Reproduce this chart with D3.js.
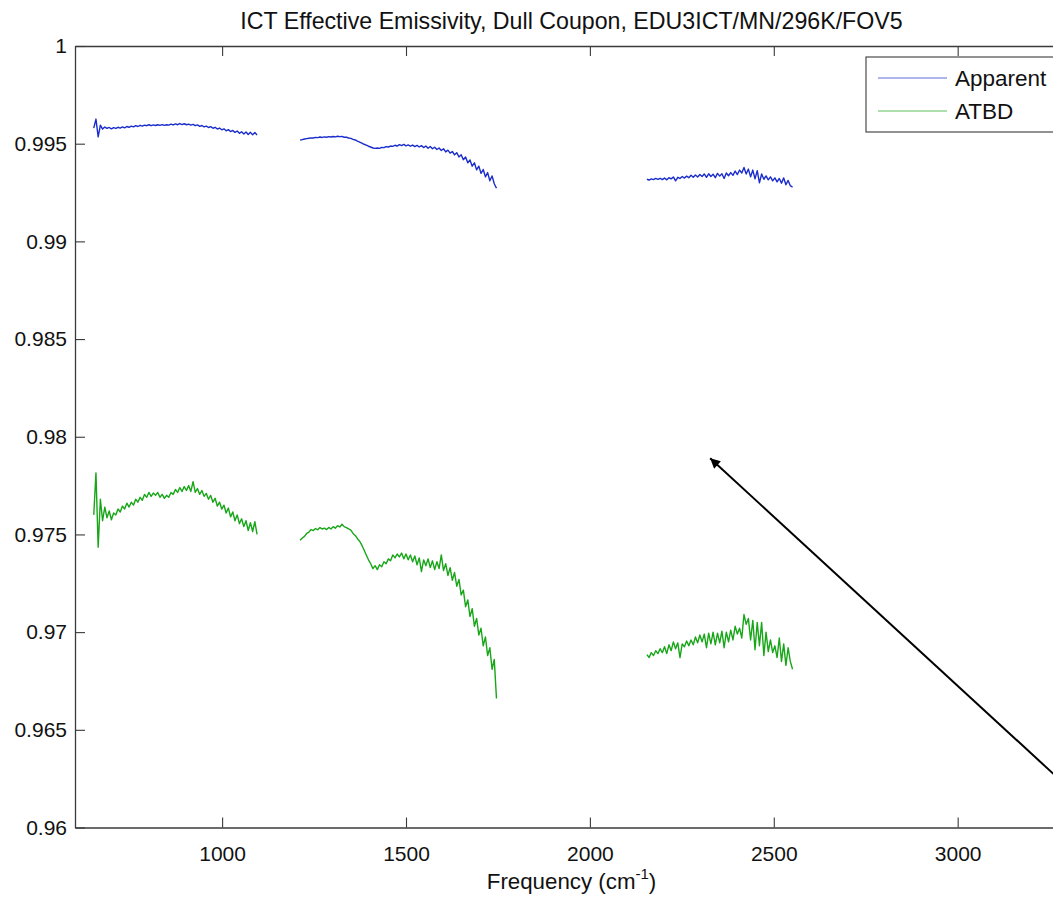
<!DOCTYPE html>
<html>
<head>
<meta charset="utf-8">
<script src="https://cdn.jsdelivr.net/npm/d3@7"></script>
<style>
  html, body { margin: 0; padding: 0; background: #fff; overflow: hidden; }
  svg { display: block; font-family: "Liberation Sans", Arial, Helvetica, sans-serif; }
</style>
</head>
<body>
<svg id="chart" width="1053" height="903"></svg>
<script>
// Spectral bands: first wavenumber (cm^-1) of each band and sample spacing
const bandStarts = [651, 1212, 2155];
const sampleStep = 6;

// Apparent effective emissivity, one array per band
const apparentB1 = [
  0.99580, 0.99626, 0.99535, 0.99595, 0.99575, 0.99585, 0.99578, 0.99583, 0.99576, 0.99582,
  0.99578, 0.99584, 0.99580, 0.99586, 0.99581, 0.99588, 0.99584, 0.99590, 0.99586, 0.99592,
  0.99588, 0.99594, 0.99590, 0.99595, 0.99592, 0.99597, 0.99592, 0.99596, 0.99593, 0.99597,
  0.99594, 0.99598, 0.99594, 0.99597, 0.99595, 0.99600, 0.99596, 0.99601, 0.99597, 0.99603,
  0.99598, 0.99602, 0.99597, 0.99600, 0.99595, 0.99599, 0.99592, 0.99596, 0.99589, 0.99593,
  0.99586, 0.99590, 0.99583, 0.99587, 0.99579, 0.99584, 0.99575, 0.99580, 0.99571, 0.99576,
  0.99566, 0.99572, 0.99562, 0.99568, 0.99558, 0.99565, 0.99553, 0.99561, 0.99550, 0.99560,
  0.99547, 0.99558, 0.99546, 0.99557, 0.99545
];
const apparentB2 = [
  0.99518, 0.99521, 0.99524, 0.99526, 0.99528, 0.99530, 0.99529, 0.99532, 0.99531, 0.99534,
  0.99532, 0.99535, 0.99533, 0.99536, 0.99534, 0.99537, 0.99535, 0.99538, 0.99536, 0.99537,
  0.99533, 0.99533, 0.99529, 0.99527, 0.99522, 0.99519, 0.99513, 0.99508, 0.99503, 0.99497,
  0.99493, 0.99487, 0.99483, 0.99478, 0.99476, 0.99478, 0.99476, 0.99481, 0.99480, 0.99485,
  0.99483, 0.99488, 0.99486, 0.99492, 0.99488, 0.99495, 0.99490, 0.99496, 0.99489, 0.99494,
  0.99487, 0.99493, 0.99485, 0.99491, 0.99483, 0.99490, 0.99480, 0.99488, 0.99477, 0.99486,
  0.99474, 0.99482, 0.99470, 0.99478, 0.99465, 0.99474, 0.99458, 0.99467, 0.99452, 0.99460,
  0.99443, 0.99454, 0.99432, 0.99443, 0.99418, 0.99432, 0.99402, 0.99417, 0.99385, 0.99402,
  0.99366, 0.99385, 0.99348, 0.99368, 0.99330, 0.99352, 0.99310, 0.99335, 0.99295, 0.99272
];
const apparentB3 = [
  0.99318, 0.99314, 0.99320, 0.99316, 0.99322, 0.99317, 0.99323, 0.99316, 0.99324, 0.99315,
  0.99326, 0.99320, 0.99330, 0.99310, 0.99328, 0.99322, 0.99332, 0.99324, 0.99334, 0.99326,
  0.99338, 0.99328, 0.99340, 0.99330, 0.99342, 0.99332, 0.99345, 0.99328, 0.99346, 0.99332,
  0.99344, 0.99326, 0.99348, 0.99334, 0.99346, 0.99322, 0.99350, 0.99336, 0.99352, 0.99338,
  0.99360, 0.99342, 0.99365, 0.99350, 0.99378, 0.99345, 0.99370, 0.99330, 0.99365, 0.99320,
  0.99362, 0.99300, 0.99345, 0.99318, 0.99335, 0.99315, 0.99330, 0.99310, 0.99325, 0.99305,
  0.99322, 0.99298, 0.99325, 0.99290, 0.99312, 0.99285, 0.99278
];

// ATBD effective emissivity, one array per band
const atbdB1 = [
  0.97600, 0.97815, 0.97435, 0.97680, 0.97570, 0.97640, 0.97585, 0.97620, 0.97575, 0.97610,
  0.97600, 0.97630, 0.97615, 0.97645, 0.97630, 0.97660, 0.97640, 0.97665, 0.97650, 0.97680,
  0.97665, 0.97690, 0.97675, 0.97705, 0.97690, 0.97715, 0.97695, 0.97712, 0.97700, 0.97715,
  0.97690, 0.97705, 0.97685, 0.97700, 0.97690, 0.97715, 0.97705, 0.97730, 0.97715, 0.97740,
  0.97720, 0.97745, 0.97725, 0.97750, 0.97720, 0.97770, 0.97715, 0.97735, 0.97705, 0.97725,
  0.97695, 0.97710, 0.97680, 0.97700, 0.97665, 0.97685, 0.97645, 0.97665, 0.97630, 0.97650,
  0.97610, 0.97635, 0.97590, 0.97615, 0.97570, 0.97600, 0.97555, 0.97580, 0.97540, 0.97570,
  0.97520, 0.97560, 0.97515, 0.97565, 0.97500
];
const atbdB2 = [
  0.97470, 0.97482, 0.97490, 0.97505, 0.97512, 0.97525, 0.97520, 0.97530, 0.97524, 0.97535,
  0.97528, 0.97532, 0.97525, 0.97536, 0.97528, 0.97540, 0.97532, 0.97545, 0.97538, 0.97552,
  0.97540, 0.97535, 0.97528, 0.97522, 0.97505, 0.97495, 0.97478, 0.97465, 0.97445, 0.97420,
  0.97395, 0.97370, 0.97350, 0.97325, 0.97340, 0.97320, 0.97345, 0.97335, 0.97360, 0.97350,
  0.97375, 0.97365, 0.97395, 0.97380, 0.97400, 0.97385, 0.97405, 0.97375, 0.97400, 0.97370,
  0.97395, 0.97360, 0.97390, 0.97345, 0.97380, 0.97310, 0.97370, 0.97340, 0.97375, 0.97330,
  0.97365, 0.97320, 0.97360, 0.97325, 0.97395, 0.97315, 0.97350, 0.97290, 0.97330, 0.97265,
  0.97305, 0.97235, 0.97270, 0.97190, 0.97215, 0.97130, 0.97165, 0.97080, 0.97120, 0.97030,
  0.97070, 0.96985, 0.97020, 0.96930, 0.96975, 0.96880, 0.96920, 0.96810, 0.96860, 0.96660
];
const atbdB3 = [
  0.96885, 0.96870, 0.96895, 0.96880, 0.96905, 0.96890, 0.96915, 0.96895, 0.96925, 0.96890,
  0.96935, 0.96905, 0.96950, 0.96915, 0.96945, 0.96870, 0.96940, 0.96925, 0.96955, 0.96930,
  0.96960, 0.96935, 0.96975, 0.96945, 0.96985, 0.96950, 0.96990, 0.96920, 0.96995, 0.96940,
  0.97000, 0.96935, 0.96995, 0.96945, 0.97005, 0.96920, 0.97000, 0.96950, 0.97010, 0.96960,
  0.97030, 0.96990, 0.97020, 0.96970, 0.97090, 0.97040, 0.97070, 0.96960, 0.97060, 0.96910,
  0.97050, 0.96930, 0.97050, 0.96880, 0.97000, 0.96900, 0.96960, 0.96895, 0.96930, 0.96870,
  0.96970, 0.96850, 0.96940, 0.96830, 0.96920, 0.96850, 0.96810
];

// Axis limits and ticks
const xDomain = [600, 3300];
const yDomain = [0.96, 1.0];
const xTicks = [1000, 1500, 2000, 2500, 3000];
const yTicks = [0.96, 0.965, 0.97, 0.975, 0.98, 0.985, 0.99, 0.995, 1];
const yTickLabels = ["0.96", "0.965", "0.97", "0.975", "0.98", "0.985", "0.99", "0.995", "1"];

const seriesNames = ["Apparent", "ATBD"];
const seriesColors = ["#1a2ccc", "#17a617"];

// Annotation arrow in data units: tail (off to the lower right) and tip
const arrowTail = [3390, 0.9605];
const arrowTip = [2327, 0.9789];

const titleText = "ICT Effective Emissivity, Dull Coupon, EDU3ICT/MN/296K/FOV5";

// ---- drawing ----
const svg = d3.select("#chart");
const W = 1053, H = 903;
const m = { left: 75, top: 46, right: 1068, bottom: 827.5 };

svg.append("rect").attr("width", W).attr("height", H).attr("fill", "#fff");

const x = d3.scaleLinear().domain(xDomain).range([m.left, m.right]);
const y = d3.scaleLinear().domain(yDomain).range([m.bottom, m.top]);

const axisColor = "#3a3a3a";
const tickFont = "21px";

function styleAxis(g) {
  g.selectAll("path.domain").attr("stroke", axisColor).attr("stroke-width", 1.3);
  g.selectAll(".tick line").attr("stroke", axisColor).attr("stroke-width", 1.1);
  g.selectAll(".tick text").attr("fill", "#111").style("font-size", tickFont)
    .style("font-family", "'Liberation Sans', Arial, sans-serif");
}

// bottom axis with labels, ticks pointing inward
svg.append("g")
  .attr("transform", `translate(0,${m.bottom})`)
  .call(d3.axisBottom(x).tickValues(xTicks).tickFormat(d3.format("d"))
    .tickSizeInner(-10).tickSizeOuter(0).tickPadding(19))
  .call(styleAxis);

// top axis, ticks only
svg.append("g")
  .attr("transform", `translate(0,${m.top})`)
  .call(d3.axisTop(x).tickValues(xTicks).tickFormat("")
    .tickSizeInner(-10).tickSizeOuter(0))
  .call(styleAxis);

// left axis with labels
svg.append("g")
  .attr("transform", `translate(${m.left},0)`)
  .call(d3.axisLeft(y).tickValues(yTicks).tickFormat((d, i) => yTickLabels[i])
    .tickSizeInner(-10).tickSizeOuter(0).tickPadding(8))
  .call(styleAxis);

// right axis, ticks only
svg.append("g")
  .attr("transform", `translate(${m.right},0)`)
  .call(d3.axisRight(y).tickValues(yTicks).tickFormat("")
    .tickSizeInner(-10).tickSizeOuter(0))
  .call(styleAxis);

// spectra
const line = d3.line().x(d => x(d[0])).y(d => y(d[1]));
const bandsBySeries = [
  [apparentB1, apparentB2, apparentB3],
  [atbdB1, atbdB2, atbdB3]
];
const plot = svg.append("g");
bandsBySeries.forEach((bands, s) => {
  bands.forEach((vals, b) => {
    const pts = vals.map((v, i) => [bandStarts[b] + i * sampleStep, v]);
    plot.append("path")
      .datum(pts)
      .attr("fill", "none")
      .attr("stroke", seriesColors[s])
      .attr("stroke-width", 1.4)
      .attr("stroke-linejoin", "round")
      .attr("d", line);
  });
});

// title
svg.append("text")
  .attr("x", (m.left + m.right) / 2).attr("y", 29)
  .attr("text-anchor", "middle")
  .style("font-size", "23.2px").attr("fill", "#111")
  .text(titleText);

// x axis label with superscript
const xl = svg.append("text")
  .attr("x", (m.left + m.right) / 2).attr("y", 889)
  .attr("text-anchor", "middle")
  .style("font-size", "22.3px").attr("fill", "#111");
xl.append("tspan").text("Frequency (cm");
xl.append("tspan").attr("dy", -10).style("font-size", "15px").text("-1");
xl.append("tspan").attr("dy", 10).text(")");

// legend
const lg = svg.append("g");
const lgX = 866, lgY = 57, lgW = 191, lgH = 75;
lg.append("rect").attr("x", lgX).attr("y", lgY).attr("width", lgW).attr("height", lgH)
  .attr("fill", "#fff").attr("stroke", axisColor).attr("stroke-width", 1.1);
seriesNames.forEach((name, i) => {
  const ly = lgY + 21 + i * 33;
  lg.append("line").attr("x1", lgX + 12).attr("x2", lgX + 81)
    .attr("y1", ly).attr("y2", ly)
    .attr("stroke", seriesColors[i]).attr("stroke-width", 1).attr("opacity", 0.7);
  lg.append("text").attr("x", lgX + 89).attr("y", ly + 8)
    .style("font-size", "22.5px").attr("fill", "#111").text(name);
});

// annotation arrow
const defs = svg.append("defs");
defs.append("marker")
  .attr("id", "arrowhead")
  .attr("viewBox", "0 0 10 10")
  .attr("refX", 10).attr("refY", 5)
  .attr("markerUnits", "userSpaceOnUse")
  .attr("markerWidth", 15).attr("markerHeight", 10)
  .attr("orient", "auto")
  .append("path").attr("d", "M0,0 L10,5 L0,10 Z").attr("fill", "#000");
svg.append("line")
  .attr("x1", x(arrowTail[0])).attr("y1", y(arrowTail[1]))
  .attr("x2", x(arrowTip[0])).attr("y2", y(arrowTip[1]))
  .attr("stroke", "#000").attr("stroke-width", 2)
  .attr("marker-end", "url(#arrowhead)");
</script>
</body>
</html>
